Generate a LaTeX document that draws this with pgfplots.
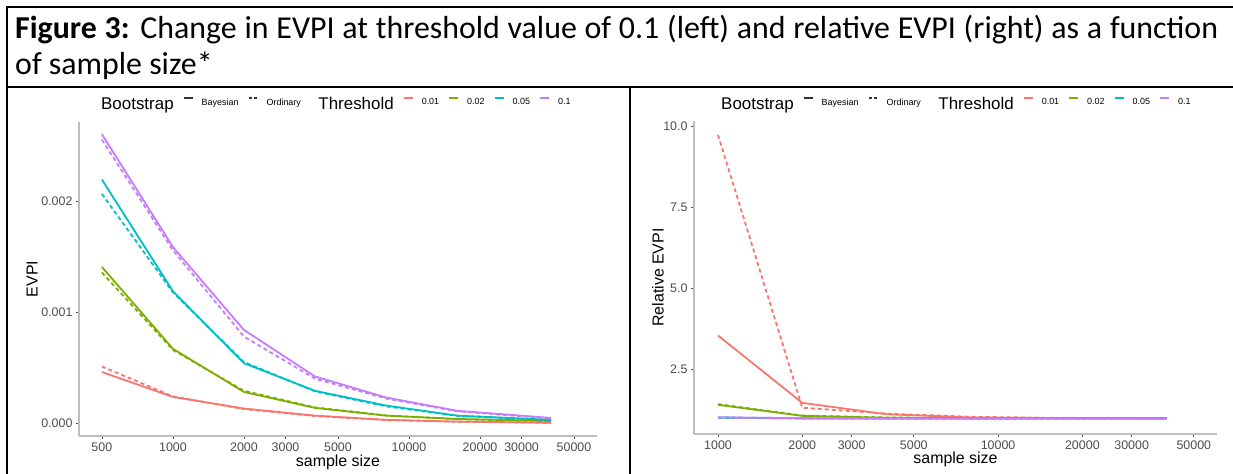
\documentclass[border=0pt]{standalone}
\usepackage{fontspec}
\setmainfont{Liberation Sans}
\newfontfamily\calibri{Carlito}
\usepackage{pgfplots}
\pgfplotsset{compat=1.18}

\definecolor{c01}{HTML}{F8766D}
\definecolor{c02}{HTML}{7CAE00}
\definecolor{c05}{HTML}{00BFC4}
\definecolor{c10}{HTML}{C77CFF}
\definecolor{ticktxt}{HTML}{4D4D4D}
\definecolor{axisgray}{HTML}{BEBEBE}

\newcommand{\legtitle}[1]{\fontsize{17}{18}\selectfont #1}
\newcommand{\legitem}[1]{\raisebox{3bp}{\fontsize{9}{10}\selectfont #1}}

\tikzset{
  sol/.style={line width=1.8bp, solid},
  das/.style={line width=1.8bp, dash pattern=on 4bp off 3bp},
}

\newcommand{\gglegend}{%
  \addlegendimage{empty legend}\addlegendentry{\legtitle{Bootstrap}}
  \addlegendimage{black!80, line width=1.5bp}\addlegendentry{\legitem{Bayesian}}
  \addlegendimage{black!80, line width=1.5bp, dash pattern=on 3bp off 2bp}\addlegendentry{\legitem{Ordinary}}
  \addlegendimage{empty legend}\addlegendentry{\legtitle{Threshold}}
  \addlegendimage{c01, line width=1.5bp}\addlegendentry{\legitem{0.01}}
  \addlegendimage{c02, line width=1.5bp}\addlegendentry{\legitem{0.02}}
  \addlegendimage{c05, line width=1.5bp}\addlegendentry{\legitem{0.05}}
  \addlegendimage{c10, line width=1.5bp}\addlegendentry{\legitem{0.1}}
}

\begin{document}
\begin{tikzpicture}[x=1bp, y=1bp]
\useasboundingbox (0,0) rectangle (1233,474);

% caption box
\draw[line width=2.5bp] (7,0) -- (7,467) -- (1233,467);
\draw[line width=1.2bp] (7,387) -- (1233,387);
\draw[line width=2.5bp] (600,387) -- (643,387);
\draw[line width=2.5bp] (630,387) -- (630,0);
\node[anchor=base west, inner sep=0pt, font=\calibri\fontsize{32}{38}\selectfont]
  at (15,435) {\makebox[1203bp][s]{\textbf{Figure 3:} Change in EVPI at threshold value of 0.1 (left) and relative EVPI (right) as a function}};
\node[anchor=base west, inner sep=0pt, font=\calibri\fontsize{32}{38}\selectfont]
  at (15,399) {of sample size*};

% left panel: EVPI
\begin{axis}[
  xmode=log,
  scale only axis, anchor=south west,
  at={(79bp,38bp)}, width=518bp, height=314bp,
  xmin=400, xmax=62600, ymin=-0.000118, ymax=0.00272,
  axis x line*=bottom, axis y line*=left,
  axis line style={axisgray, line width=1.1bp},
  tick style={ticktxt, line width=0.7bp},
  tick align=outside, major tick length=3bp,
  xtick={500,1000,2000,3000,5000,10000,20000,30000,50000},
  xticklabels={500,1000,2000,3000,5000,10000,20000,30000,50000},
  ytick={0,0.001,0.002}, yticklabels={0.000,0.001,0.002},
  scaled y ticks=false,
  ticklabel style={font=\fontsize{12.5}{14}\selectfont, text=ticktxt},
  xlabel={sample size}, ylabel={EVPI},
  label style={font=\fontsize{16}{18}\selectfont},
  xlabel style={anchor=base, at={(axis description cs:0.5,-0.0987)}},
  ylabel style={anchor=center, at={(axis description cs:-0.0907,0.5)}},
  legend columns=-1,
  legend image code/.code={\draw[#1] (0bp,6bp) -- (9bp,6bp);},
  legend style={draw=none, fill=none, inner sep=0pt,
    nodes={inner sep=0pt},
    font=\fontsize{9}{10}\selectfont,
    /tikz/every odd column/.append style={column sep=8bp},
    /tikz/every even column/.append style={column sep=9.5bp},
    at={(axis description cs:0.027,1.057)}, anchor=west},
]
\gglegend
\addplot[c01, sol, forget plot] coordinates {(500,0.00046) (1000,0.000235) (2000,0.00013) (4000,0.000066) (8000,0.000028) (16000,0.000012) (40000,0.000002)};
\addplot[c01, das, forget plot] coordinates {(500,0.00051) (1000,0.00024) (2000,0.000125) (4000,0.000062) (8000,0.000026) (16000,0.000011) (40000,0.000001)};
\addplot[c02, sol, forget plot] coordinates {(500,0.00141) (1000,0.00067) (2000,0.00028) (4000,0.000136) (8000,0.000066) (16000,0.000036) (40000,0.000018)};
\addplot[c02, das, forget plot] coordinates {(500,0.00136) (1000,0.00066) (2000,0.00029) (4000,0.00014) (8000,0.000068) (16000,0.000034) (40000,0.000016)};
\addplot[c05, sol, forget plot] coordinates {(500,0.00220) (1000,0.00119) (2000,0.00054) (4000,0.00029) (8000,0.000157) (16000,0.000066) (40000,0.000028)};
\addplot[c05, das, forget plot] coordinates {(500,0.00207) (1000,0.00118) (2000,0.00055) (4000,0.000285) (8000,0.00015) (16000,0.000064) (40000,0.000026)};
\addplot[c10, sol, forget plot] coordinates {(500,0.00261) (1000,0.00159) (2000,0.00084) (4000,0.00042) (8000,0.00023) (16000,0.00011) (40000,0.000045)};
\addplot[c10, das, forget plot] coordinates {(500,0.00256) (1000,0.00156) (2000,0.00078) (4000,0.00040) (8000,0.00022) (16000,0.000105) (40000,0.00004)};
\end{axis}

% right panel: relative EVPI
\begin{axis}[
  xmode=log,
  scale only axis, anchor=south west,
  at={(694bp,40bp)}, width=523bp, height=313bp,
  xmin=821, xmax=60500, ymin=0.49, ymax=10.15,
  axis x line*=bottom, axis y line*=left,
  axis line style={axisgray, line width=1.1bp},
  tick style={ticktxt, line width=0.7bp},
  tick align=outside, major tick length=3bp,
  xtick={1000,2000,3000,5000,10000,20000,30000,50000},
  xticklabels={1000,2000,3000,5000,10000,20000,30000,50000},
  ytick={2.5,5,7.5,10}, yticklabels={2.5,5.0,7.5,10.0},
  ticklabel style={font=\fontsize{12.5}{14}\selectfont, text=ticktxt},
  xlabel={sample size}, ylabel={Relative EVPI},
  label style={font=\fontsize{16}{18}\selectfont},
  xlabel style={anchor=base, at={(axis description cs:0.5,-0.0958)}},
  ylabel style={anchor=center, at={(axis description cs:-0.0688,0.5)}},
  legend columns=-1,
  legend image code/.code={\draw[#1] (0bp,6bp) -- (9bp,6bp);},
  legend style={draw=none, fill=none, inner sep=0pt,
    nodes={inner sep=0pt},
    font=\fontsize{9}{10}\selectfont,
    /tikz/every odd column/.append style={column sep=8bp},
    /tikz/every even column/.append style={column sep=9.5bp},
    at={(axis description cs:0.0363,1.054)}, anchor=west},
]
\gglegend
\addplot[c01, sol, forget plot] coordinates {(1000,3.53) (2000,1.45) (4000,1.10) (8000,1.00) (16000,0.98) (40000,0.97)};
\addplot[c01, das, forget plot] coordinates {(1000,9.72) (2000,1.30) (4000,1.12) (8000,1.02) (16000,0.99) (40000,0.97)};
\addplot[c02, sol, forget plot] coordinates {(1000,1.39) (2000,1.05) (4000,0.99) (8000,0.98) (16000,0.98) (40000,0.98)};
\addplot[c02, das, forget plot] coordinates {(1000,1.41) (2000,1.06) (4000,1.00) (8000,0.98) (16000,0.98) (40000,0.98)};
\addplot[c05, sol, forget plot] coordinates {(1000,1.00) (2000,0.97) (4000,0.97) (8000,0.97) (16000,0.97) (40000,0.97)};
\addplot[c05, das, forget plot] coordinates {(1000,0.99) (2000,0.97) (4000,0.97) (8000,0.97) (16000,0.97) (40000,0.97)};
\addplot[c10, sol, forget plot] coordinates {(1000,1.00) (2000,0.98) (4000,0.97) (8000,0.97) (16000,0.97) (40000,0.97)};
\addplot[c10, das, forget plot] coordinates {(1000,1.00) (2000,0.98) (4000,0.97) (8000,0.97) (16000,0.97) (40000,0.97)};
\end{axis}
\end{tikzpicture}
\end{document}
